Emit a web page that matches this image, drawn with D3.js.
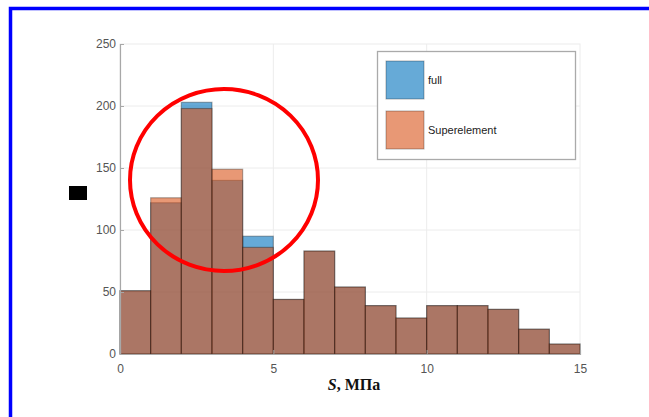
<!DOCTYPE html>
<html>
<head>
<meta charset="utf-8">
<script src="https://cdn.jsdelivr.net/npm/d3@7"></script>
<style>
  body { margin: 0; background: #fff; }
  svg { display: block; }
  .tick text { font-family: "Liberation Sans", Arial, sans-serif; font-size: 12px; fill: #555; }
</style>
</head>
<body>
<div id="chart"></div>
<script>
// histogram bins (left edges, bin width 1) and counts
var binStart = [0, 1, 2, 3, 4, 5, 6, 7, 8, 9, 10, 11, 12, 13, 14];
var fullCounts = [51, 122, 203, 140, 95, 44, 83, 54, 39, 29, 39, 39, 36, 20, 8];
var superCounts = [51, 126, 198, 149, 86, 44, 83, 54, 39, 29, 39, 39, 36, 20, 8];
var xTicks = [0, 5, 10, 15];
var yTicks = [0, 50, 100, 150, 200, 250];
var seriesNames = ["full", "Superelement"];

var W = 649, H = 417;
var x = d3.scaleLinear().domain([0, 15]).range([120, 580]);
var y = d3.scaleLinear().domain([0, 250]).range([354, 44]);

var svg = d3.select("#chart").append("svg")
    .attr("width", W)
    .attr("height", H);

// blue frame round the slide
svg.append("path")
    .attr("d", "M10.5," + H + "V8.5H" + W)
    .attr("fill", "none")
    .attr("stroke", "#0000ff")
    .attr("stroke-width", 3.5);

// grid
svg.append("g").selectAll("line")
    .data(xTicks.slice(1, -1)).enter().append("line")
    .attr("x1", d => x(d)).attr("x2", d => x(d))
    .attr("y1", y(0)).attr("y2", y(250))
    .attr("stroke", "#ececec");
svg.append("g").selectAll("line")
    .data(yTicks.slice(1, -1)).enter().append("line")
    .attr("x1", x(0)).attr("x2", x(15))
    .attr("y1", d => y(d)).attr("y2", d => y(d))
    .attr("stroke", "#ececec");
svg.append("rect")
    .attr("x", x(0)).attr("y", y(250))
    .attr("width", x(15) - x(0)).attr("height", y(0) - y(250))
    .attr("fill", "none").attr("stroke", "#ececec");

// bars: full first, Superelement on top, both semi transparent
var colors = ["rgb(0,114,189)", "rgb(217,83,25)"];
[fullCounts, superCounts].forEach(function(vals, k){
    svg.append("g").selectAll("rect")
        .data(vals).enter().append("rect")
        .attr("x", (d, i) => x(binStart[i]))
        .attr("y", d => y(d))
        .attr("width", (d, i) => x(binStart[i] + 1) - x(binStart[i]))
        .attr("height", d => y(0) - y(d))
        .attr("fill", colors[k])
        .attr("fill-opacity", 0.6)
        .attr("stroke", "#000")
        .attr("stroke-opacity", 0.3)
        .attr("stroke-width", 1.2);
});

// axes
var yAxis = svg.append("g")
    .attr("transform", "translate(" + x(0) + ",0)")
    .call(d3.axisLeft(y).tickValues(yTicks).tickSize(-4).tickPadding(4));
var xAxis = svg.append("g")
    .attr("transform", "translate(0," + y(0) + ")")
    .call(d3.axisBottom(x).tickValues(xTicks).tickSize(-4).tickPadding(10));
[yAxis, xAxis].forEach(function(a){
    a.select(".domain").attr("stroke", "#a8a8a8").attr("stroke-width", 1.2);
    a.selectAll(".tick line").attr("stroke", "#a8a8a8");
});

// x axis title
var title = svg.append("text")
    .attr("x", 354).attr("y", 390)
    .attr("text-anchor", "middle")
    .style("font-family", "'Liberation Serif', 'Times New Roman', serif")
    .style("font-size", "16px")
    .style("font-weight", "bold")
    .attr("fill", "#111");
title.append("tspan").style("font-style", "italic").text("S");
title.append("tspan").text(", МПа");

// legend
var lg = svg.append("g");
lg.append("rect")
    .attr("x", 377.5).attr("y", 51.5)
    .attr("width", 198).attr("height", 108)
    .attr("fill", "#fff").attr("stroke", "#aaa").attr("stroke-width", 1.3);
seriesNames.forEach(function(name, k){
    var top = 61 + k * 50;
    lg.append("rect")
        .attr("x", 386).attr("y", top)
        .attr("width", 38).attr("height", 38)
        .attr("fill", colors[k]).attr("fill-opacity", 0.6)
        .attr("stroke", "#000").attr("stroke-opacity", 0.3);
    lg.append("text")
        .attr("x", 428).attr("y", top + 23)
        .style("font-family", "'Liberation Sans', Arial, sans-serif")
        .style("font-size", "11px")
        .attr("fill", "#222")
        .text(name);
});

// annotations: black mark and red circle
svg.append("rect")
    .attr("x", 69).attr("y", 186)
    .attr("width", 18).attr("height", 14)
    .attr("fill", "#000");
svg.append("ellipse")
    .attr("cx", 224).attr("cy", 180)
    .attr("rx", 94).attr("ry", 91)
    .attr("fill", "none")
    .attr("stroke", "#ff0000")
    .attr("stroke-width", 4);
</script>
</body>
</html>
